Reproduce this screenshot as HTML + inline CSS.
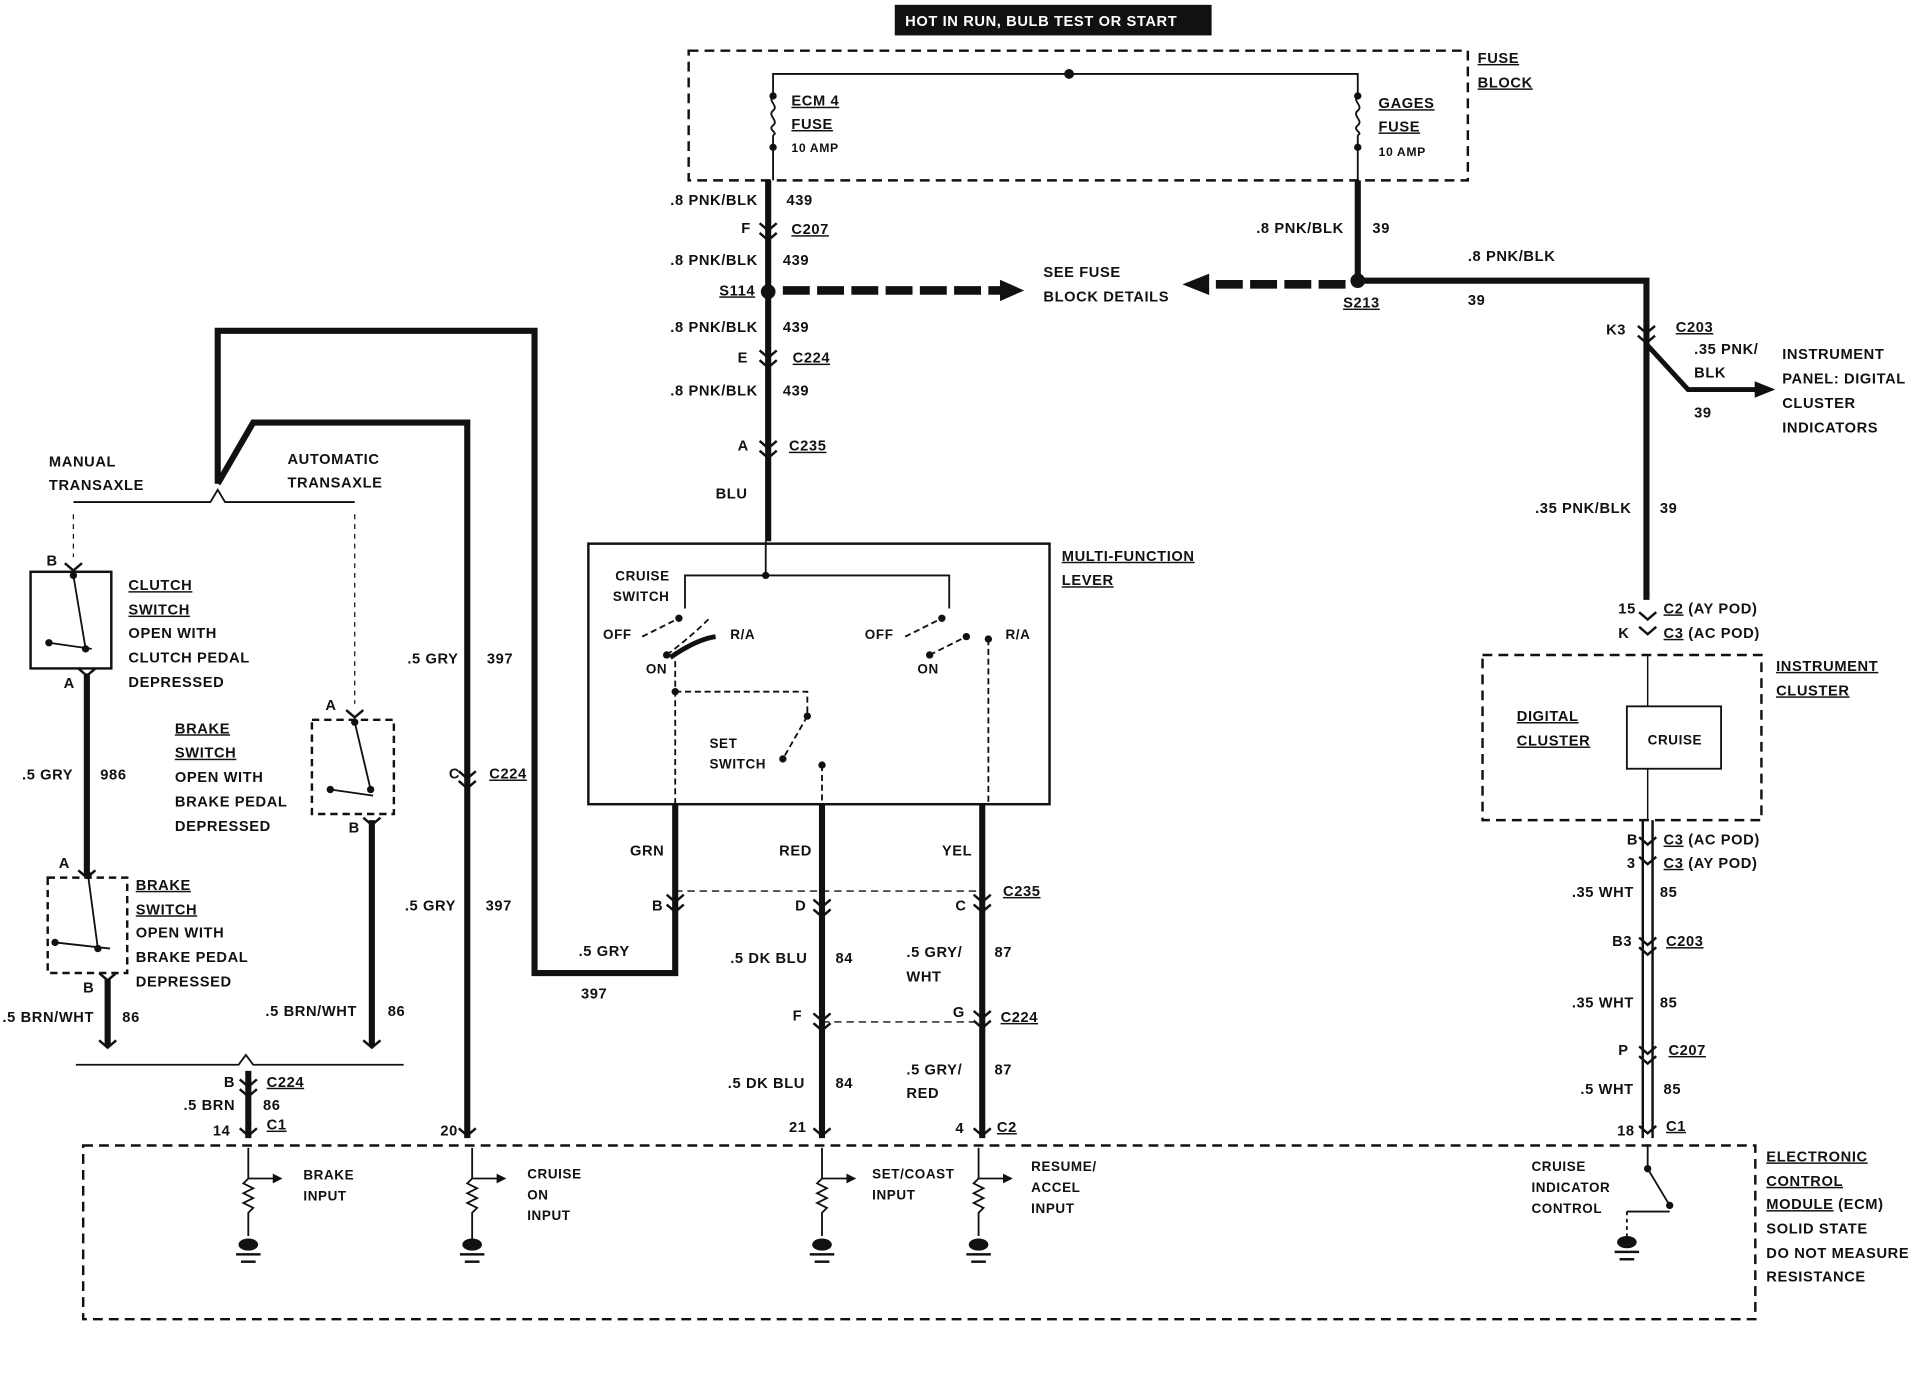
<!DOCTYPE html>
<html><head><meta charset="utf-8"><style>
html,body{margin:0;padding:0;background:#fff;}
svg{display:block}
text{font-family:"Liberation Sans",Arial,sans-serif;font-weight:bold;font-size:12px;fill:#111;letter-spacing:0.5px}
.u{text-decoration:underline}
</style></head><body>
<svg width="1918" height="1376" viewBox="0 0 1568 1124" xmlns="http://www.w3.org/2000/svg">
<g fill="none" stroke="#111">
<rect x="732" y="4" width="258" height="24" fill="#111"/>
<rect x="563" y="41" width="637" height="106" stroke-width="2" stroke-dasharray="8,5"/>
<path d="M632 78V60H1110V78" stroke-width="1.5"/>
<path d="M632 78c-5 4 5 8 0 12s5 8 0 12 5 6 0 8M632 110V147M1110 78c-5 4 5 8 0 12s5 8 0 12 5 6 0 8M1110 110V147" stroke-width="1.5"/>
<path d="M628 147V442" stroke-width="5"/>
<path d="M1110 147V229H1346V490" stroke-width="5"/>
<path d="M1347 282L1380 318H1440" stroke-width="4"/>
<path d="M1435 312L1450 318L1435 324Z" fill="#111"/>
<path d="M640 237H820" stroke-width="7" stroke-dasharray="22,6"/>
<path d="M818 229L836 237L818 245Z" fill="#111"/>
<path d="M1100 232H985" stroke-width="7" stroke-dasharray="22,6"/>
<path d="M988 224L968 232L988 240Z" fill="#111"/>
<rect x="481" y="444" width="377" height="213" stroke-width="2"/>
<path d="M626 442V470M560 497V470H776V497" stroke-width="1.5"/>
<path d="M525 520L555 505M545 535Q565 520 580 505M740 520L770 505M760 535L790 520M808 522V657M552 540V657M552 565H660V585L640 620M672 625V657" stroke-width="1.5" stroke-dasharray="5,3"/>
<path d="M548 537Q570 522 585 520" stroke-width="4"/>
<path d="M552 657V795H437V270H178V395" stroke-width="5"/>
<path d="M178 395L207 345H382V930" stroke-width="5"/>
<path d="M672 657V930M803 657V930" stroke-width="5"/>
<path d="M552 728H803M672 835H803" stroke-width="1.2" stroke-dasharray="6,4"/>
<path d="M60 410H172L178 400L184 410H290" stroke-width="1.5"/>
<path d="M60 420V455M290 420V575" stroke-width="1" stroke-dasharray="4,4"/>
<rect x="25" y="467" width="66" height="79" stroke-width="2"/>
<rect x="39" y="717" width="65" height="78" stroke-width="2" stroke-dasharray="6,4"/>
<rect x="255" y="588" width="67" height="77" stroke-width="2" stroke-dasharray="6,4"/>
<path d="M60 470L70 530M40 525L75 530M72 715L80 775M45 770L90 775M290 590L303 645M270 645L305 650" stroke-width="1.5"/>
<path d="M71 550V715M88 800V855M304 670V855" stroke-width="5"/>
<path d="M62 870H195L201 862L207 870H330" stroke-width="1.5"/>
<path d="M203 875V930" stroke-width="5"/>
<rect x="1212" y="535" width="228" height="135" stroke-width="2" stroke-dasharray="8,5"/>
<rect x="1330" y="577" width="77" height="51" stroke-width="1.5"/>
<path d="M1347 535V577M1347 628V670" stroke-width="1.2"/>
<path d="M1343 670V930M1351 670V930" stroke-width="2"/>
<rect x="68" y="936" width="1367" height="142" stroke-width="2" stroke-dasharray="8,5"/>
<path d="M1347 935V955L1365 985M1330 990H1365" stroke-width="1.5"/>
<path d="M1330 990V1010" stroke-width="1.5" stroke-dasharray="3,3"/>
</g>
<g stroke="#111" fill="none" stroke-width="1.5">
<path d="M203 938V963H225M203 963l-4 4 8 4-8 4 8 4-8 4 8 4-4 4V1010M386 938V963H408M386 963l-4 4 8 4-8 4 8 4-8 4 8 4-4 4V1012M672 938V963H694M672 963l-4 4 8 4-8 4 8 4-8 4 8 4-4 4V1010M800 938V963H822M800 963l-4 4 8 4-8 4 8 4-8 4 8 4-4 4V1010"/>
</g>
<g fill="#111">
<path d="M223 959l8 4-8 4zM406 959l8 4-8 4zM692 959l8 4-8 4zM820 959l8 4-8 4z"/>
<ellipse cx="203" cy="1017" rx="8" ry="5"/><ellipse cx="386" cy="1017" rx="8" ry="5"/><ellipse cx="672" cy="1017" rx="8" ry="5"/><ellipse cx="800" cy="1017" rx="8" ry="5"/><ellipse cx="1330" cy="1015" rx="8" ry="5"/>
<rect x="193" y="1024" width="20" height="2"/><rect x="376" y="1024" width="20" height="2"/><rect x="662" y="1024" width="20" height="2"/><rect x="790" y="1024" width="20" height="2"/><rect x="1320" y="1022" width="20" height="2"/>
<rect x="197" y="1030" width="12" height="2"/><rect x="380" y="1030" width="12" height="2"/><rect x="666" y="1030" width="12" height="2"/><rect x="794" y="1030" width="12" height="2"/><rect x="1324" y="1028" width="12" height="2"/>
<circle cx="874" cy="60" r="4"/><circle cx="632" cy="78" r="3"/><circle cx="632" cy="120" r="3"/><circle cx="1110" cy="78" r="3"/><circle cx="1110" cy="120" r="3"/>
<circle cx="628" cy="238" r="6"/><circle cx="1110" cy="229" r="6"/><circle cx="626" cy="470" r="3"/>
<circle cx="555" cy="505" r="3"/><circle cx="545" cy="535" r="3"/><circle cx="770" cy="505" r="3"/><circle cx="760" cy="535" r="3"/><circle cx="790" cy="520" r="3"/><circle cx="808" cy="522" r="3"/>
<circle cx="552" cy="565" r="3"/><circle cx="660" cy="585" r="3"/><circle cx="640" cy="620" r="3"/><circle cx="672" cy="625" r="3"/>
<circle cx="60" cy="470" r="3"/><circle cx="70" cy="530" r="3"/><circle cx="40" cy="525" r="3"/><circle cx="72" cy="715" r="3"/><circle cx="80" cy="775" r="3"/><circle cx="45" cy="770" r="3"/>
<circle cx="290" cy="590" r="3"/><circle cx="303" cy="645" r="3"/><circle cx="270" cy="645" r="3"/><circle cx="1347" cy="955" r="3"/><circle cx="1365" cy="985" r="3"/>
</g>
<g fill="none" stroke="#111" stroke-width="2">
<path d="M621 182l7 6 7-6M621 190l7 6 7-6M621 286l7 6 7-6M621 294l7 6 7-6M621 360l7 6 7-6M621 368l7 6 7-6M1339 266l7 6 7-6M1339 274l7 6 7-6M375 630l7 6 7-6M375 638l7 6 7-6M545 731l7 6 7-6M545 739l7 6 7-6M665 735l7 6 7-6M665 743l7 6 7-6M796 731l7 6 7-6M796 739l7 6 7-6M665 828l7 6 7-6M665 836l7 6 7-6M796 826l7 6 7-6M796 834l7 6 7-6M196 882l7 6 7-6M196 890l7 6 7-6M1340 500l7 6 7-6M1340 512l7 6 7-6M1340 684l7 6 7-6M1340 700l7 6 7-6M1340 766l7 6 7-6M1340 774l7 6 7-6M1340 855l7 6 7-6M1340 863l7 6 7-6M1340 920l7 6 7-6M375 922l7 6 7-6M665 922l7 6 7-6M796 922l7 6 7-6M196 922l7 6 7-6M53 460l7 6 7-6M64 546l7 6 7-6M64 711l7 6 7-6M81 795l7 6 7-6M283 580l7 6 7-6M297 668l7 6 7-6M81 850l7 6 7-6M297 850l7 6 7-6"/>
</g>
<text x="740" y="21" style="fill:#fff;font-size:12px">HOT IN RUN, BULB TEST OR START</text>
<text x="1208" y="51" class="u">FUSE</text><text x="1208" y="71" class="u">BLOCK</text>
<text x="647" y="86" class="u">ECM 4</text><text x="647" y="105" class="u">FUSE</text><text x="647" y="124" style="font-size:10px">10 AMP</text>
<text x="1127" y="88" class="u">GAGES</text><text x="1127" y="107" class="u">FUSE</text><text x="1127" y="127" style="font-size:10px">10 AMP</text>
<text x="548" y="167">.8 PNK/BLK</text><text x="643" y="167">439</text>
<text x="606" y="190">F</text><text x="647" y="191" class="u">C207</text>
<text x="548" y="216">.8 PNK/BLK</text><text x="640" y="216">439</text>
<text x="588" y="241" class="u">S114</text>
<text x="853" y="226">SEE FUSE</text><text x="853" y="246">BLOCK DETAILS</text>
<text x="548" y="271">.8 PNK/BLK</text><text x="640" y="271">439</text>
<text x="603" y="296">E</text><text x="648" y="296" class="u">C224</text>
<text x="548" y="323">.8 PNK/BLK</text><text x="640" y="323">439</text>
<text x="603" y="368">A</text><text x="645" y="368" class="u">C235</text>
<text x="585" y="407">BLU</text>
<text x="1027" y="190">.8 PNK/BLK</text><text x="1122" y="190">39</text>
<text x="1200" y="213">.8 PNK/BLK</text><text x="1200" y="249">39</text>
<text x="1098" y="251" class="u">S213</text>
<text x="1313" y="273">K3</text><text x="1370" y="271" class="u">C203</text>
<text x="1385" y="289">.35 PNK/</text><text x="1385" y="308">BLK</text><text x="1385" y="341">39</text>
<text x="1457" y="293">INSTRUMENT</text><text x="1457" y="313">PANEL:  DIGITAL</text><text x="1457" y="333">CLUSTER</text><text x="1457" y="353">INDICATORS</text>
<text x="1255" y="419">.35 PNK/BLK</text><text x="1357" y="419">39</text>
<text x="1323" y="501">15</text><text x="1360" y="501"><tspan class="u">C2</tspan> (AY POD)</text>
<text x="1323" y="521">K</text><text x="1360" y="521"><tspan class="u">C3</tspan> (AC POD)</text>
<text x="1452" y="548" class="u">INSTRUMENT</text><text x="1452" y="568" class="u">CLUSTER</text>
<text x="1240" y="589" class="u">DIGITAL</text><text x="1240" y="609" class="u">CLUSTER</text>
<text x="1347" y="608" style="font-size:11px">CRUISE</text>
<text x="1330" y="690">B</text><text x="1360" y="690"><tspan class="u">C3</tspan> (AC POD)</text>
<text x="1330" y="709">3</text><text x="1360" y="709"><tspan class="u">C3</tspan> (AY POD)</text>
<text x="1285" y="733">.35 WHT</text><text x="1357" y="733">85</text>
<text x="1318" y="773">B3</text><text x="1362" y="773" class="u">C203</text>
<text x="1285" y="823">.35 WHT</text><text x="1357" y="823">85</text>
<text x="1323" y="862">P</text><text x="1364" y="862" class="u">C207</text>
<text x="1292" y="894">.5 WHT</text><text x="1360" y="894">85</text>
<text x="1322" y="928">18</text><text x="1362" y="924" class="u">C1</text>
<text x="1444" y="949" class="u">ELECTRONIC</text><text x="1444" y="969" class="u">CONTROL</text><text x="1444" y="988"><tspan class="u">MODULE</tspan> (ECM)</text><text x="1444" y="1008">SOLID STATE</text><text x="1444" y="1028">DO NOT MEASURE</text><text x="1444" y="1047">RESISTANCE</text>
<text x="1252" y="957" style="font-size:11px">CRUISE</text><text x="1252" y="974" style="font-size:11px">INDICATOR</text><text x="1252" y="991" style="font-size:11px">CONTROL</text>
<text x="868" y="458" class="u">MULTI-FUNCTION</text><text x="868" y="478" class="u">LEVER</text>
<text x="503" y="474" style="font-size:11px">CRUISE</text><text x="501" y="491" style="font-size:11px">SWITCH</text>
<text x="493" y="522" style="font-size:11px">OFF</text><text x="597" y="522" style="font-size:11px">R/A</text><text x="528" y="550" style="font-size:11px">ON</text>
<text x="707" y="522" style="font-size:11px">OFF</text><text x="822" y="522" style="font-size:11px">R/A</text><text x="750" y="550" style="font-size:11px">ON</text>
<text x="580" y="611" style="font-size:11px">SET</text><text x="580" y="628" style="font-size:11px">SWITCH</text>
<text x="515" y="699">GRN</text><text x="637" y="699">RED</text><text x="770" y="699">YEL</text>
<text x="533" y="744">B</text><text x="650" y="744">D</text><text x="781" y="744">C</text><text x="820" y="732" class="u">C235</text>
<text x="473" y="781">.5 GRY</text><text x="475" y="816">397</text>
<text x="597" y="787">.5 DK BLU</text><text x="683" y="787">84</text>
<text x="741" y="782">.5 GRY/</text><text x="741" y="802">WHT</text><text x="813" y="782">87</text>
<text x="648" y="834">F</text><text x="779" y="831">G</text><text x="818" y="835" class="u">C224</text>
<text x="595" y="889">.5 DK BLU</text><text x="683" y="889">84</text>
<text x="741" y="878">.5 GRY/</text><text x="741" y="897">RED</text><text x="813" y="878">87</text>
<text x="645" y="925">21</text><text x="781" y="926">4</text><text x="815" y="925" class="u">C2</text>
<text x="40" y="381">MANUAL</text><text x="40" y="400">TRANSAXLE</text>
<text x="235" y="379">AUTOMATIC</text><text x="235" y="398">TRANSAXLE</text>
<text x="38" y="462">B</text>
<text x="105" y="482" class="u">CLUTCH</text><text x="105" y="502" class="u">SWITCH</text><text x="105" y="521">OPEN WITH</text><text x="105" y="541">CLUTCH PEDAL</text><text x="105" y="561">DEPRESSED</text>
<text x="52" y="562">A</text>
<text x="18" y="637">.5 GRY</text><text x="82" y="637">986</text>
<text x="48" y="709">A</text>
<text x="111" y="727" class="u">BRAKE</text><text x="111" y="747" class="u">SWITCH</text><text x="111" y="766">OPEN WITH</text><text x="111" y="786">BRAKE PEDAL</text><text x="111" y="806">DEPRESSED</text>
<text x="68" y="811">B</text>
<text x="2" y="835">.5 BRN/WHT</text><text x="100" y="835">86</text>
<text x="143" y="599" class="u">BRAKE</text><text x="143" y="619" class="u">SWITCH</text><text x="143" y="639">OPEN WITH</text><text x="143" y="659">BRAKE PEDAL</text><text x="143" y="679">DEPRESSED</text>
<text x="266" y="580">A</text><text x="285" y="680">B</text>
<text x="217" y="830">.5 BRN/WHT</text><text x="317" y="830">86</text>
<text x="333" y="542">.5 GRY</text><text x="398" y="542">397</text>
<text x="367" y="636">C</text><text x="400" y="636" class="u">C224</text>
<text x="331" y="744">.5 GRY</text><text x="397" y="744">397</text>
<text x="360" y="928">20</text>
<text x="183" y="888">B</text><text x="218" y="888" class="u">C224</text>
<text x="150" y="907">.5 BRN</text><text x="215" y="907">86</text>
<text x="174" y="928">14</text><text x="218" y="923" class="u">C1</text>
<text x="248" y="964" style="font-size:11px">BRAKE</text><text x="248" y="981" style="font-size:11px">INPUT</text>
<text x="431" y="963" style="font-size:11px">CRUISE</text><text x="431" y="980" style="font-size:11px">ON</text><text x="431" y="997" style="font-size:11px">INPUT</text>
<text x="713" y="963" style="font-size:11px">SET/COAST</text><text x="713" y="980" style="font-size:11px">INPUT</text>
<text x="843" y="957" style="font-size:11px">RESUME/</text><text x="843" y="974" style="font-size:11px">ACCEL</text><text x="843" y="991" style="font-size:11px">INPUT</text>
</svg>
</body></html>
